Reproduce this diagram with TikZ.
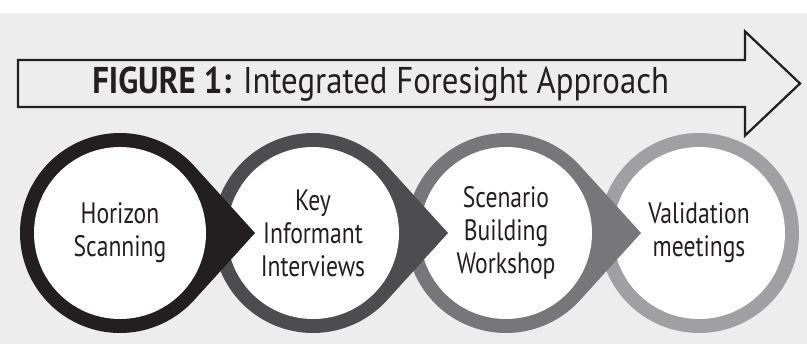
\documentclass[tikz,border=0pt]{standalone}
\usepackage{fontspec}
\setmainfont{PT Sans}
\newfontfamily\stagefont[FakeStretch=0.8]{PT Sans}
\newfontfamily\titlefont[FakeStretch=0.88]{PT Sans}
\usetikzlibrary{calc}
\definecolor{bggray}{HTML}{EDEDED}
\definecolor{ringA}{HTML}{231F20}
\definecolor{ringB}{HTML}{4D4D4F}
\definecolor{ringC}{HTML}{77777A}
\definecolor{ringD}{HTML}{A0A0A3}

\begin{document}
\begin{tikzpicture}[
    stage/.style={circle, fill=white, minimum size=4.3cm, inner sep=0pt, align=center, text=ringA, font=\stagefont\fontsize{21}{23.5}\selectfont},
    banner/.style={draw=ringA, line width=1.6pt, line join=miter, fill=bggray}
]
    \useasboundingbox (0,0) rectangle (20.175,8.6);
    % grey panel under the white strip at the top
    \fill[bggray] (0,0) rectangle (20.175,8.275);

    % outline arrow carrying the title
    \draw[banner] (0.45,5.925) -- (18.625,5.925) -- (18.625,5.21) -- (20.0,6.5125)
        -- (18.625,7.815) -- (18.625,7.1) -- (0.45,7.1) -- cycle;
    \node[anchor=base west, inner sep=0pt, text=ringA, font=\titlefont\fontsize{26.5}{30}\selectfont] (title) at (2.3,6.25)
        {\textbf{FIGURE 1:} Integrated Foresight Approach};

    % centres of the four stages, 193px apart
    \coordinate (c1) at (3.0,2.775);
    \coordinate (c2) at (7.825,2.775);
    \coordinate (c3) at (12.65,2.775);
    \coordinate (c4) at (17.475,2.775);

    % drawn right to left so each pointer lies over the next ring
    \fill[ringD] (c4) circle (2.5);
    \node[stage] (vm) at (c4) {Validation\\meetings};

    \fill[ringC] ($(c3)+(42.2:2.5)$) arc[start angle=42.2, end angle=317.8, radius=2.5] -- ($(c3)+(3.375,0)$) -- cycle;
    \node[stage] (sb) at (c3) {Scenario\\Building\\Workshop};

    \fill[ringB] ($(c2)+(42.2:2.5)$) arc[start angle=42.2, end angle=317.8, radius=2.5] -- ($(c2)+(3.375,0)$) -- cycle;
    \node[stage] (ki) at (c2) {Key\\Informant\\Interviews};

    \fill[ringA] ($(c1)+(42.2:2.5)$) arc[start angle=42.2, end angle=317.8, radius=2.5] -- ($(c1)+(3.375,0)$) -- cycle;
    \node[stage] (hs) at (c1) {Horizon\\Scanning};
\end{tikzpicture}
\end{document}
